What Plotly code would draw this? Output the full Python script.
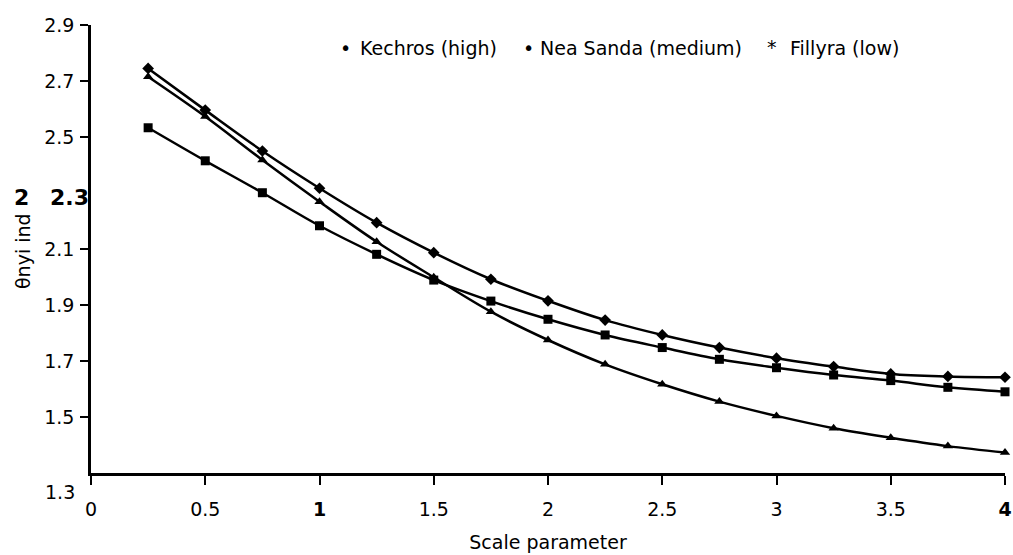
import plotly.graph_objects as go

# ---- data ----
scale_param = [0.25, 0.5, 0.75, 1.0, 1.25, 1.5, 1.75, 2.0, 2.25, 2.5, 2.75, 3.0, 3.25, 3.5, 3.75, 4.0]
kechros = [2.745, 2.596, 2.450, 2.317, 2.194, 2.087, 1.992, 1.915, 1.846, 1.793, 1.748, 1.710, 1.680, 1.654, 1.645, 1.642]
nea_sanda = [2.533, 2.415, 2.301, 2.183, 2.081, 1.989, 1.914, 1.849, 1.793, 1.748, 1.706, 1.676, 1.650, 1.630, 1.606, 1.590]
fillyra = [2.715, 2.573, 2.418, 2.269, 2.126, 1.999, 1.876, 1.775, 1.688, 1.617, 1.555, 1.504, 1.460, 1.426, 1.396, 1.373]

series_names = ["Kechros (high)", "Nea Sanda (medium)", "Fillyra (low)"]
legend_glyphs = ["\u2022", "\u2022", "*"]
marker_symbols = ["diamond", "square", "triangle-up"]

x_tickvals = [0, 0.5, 1, 1.5, 2, 2.5, 3, 3.5, 4]
x_ticktext = ["0", "0.5", "<b>1</b>", "1.5", "2", "2.5", "3", "3.5", "<b>4</b>"]
y_tickvals = [2.9, 2.7, 2.5, 2.1, 1.9, 1.7, 1.5]
y_ticktext = ["2.9", "2.7", "2.5", "2.1", "1.9", "1.7", "1.5"]

x_title = "Scale parameter"
y_title = "\u03b8nyi ind"

# ---- layout geometry (pixels) ----
W, H = 1013, 555
L, R, T, B = 91, 8, 25, 82
PW, PH = W - L - R, H - T - B


def px_x(px):
    return (px - L) / PW


def px_y(py):
    return (H - B - py) / PH


FONT = "DejaVu Sans"

fig = go.Figure()
for name, ys, sym in zip(series_names, [kechros, nea_sanda, fillyra], marker_symbols):
    fig.add_trace(go.Scatter(
        x=scale_param, y=ys, name=name, mode="lines+markers",
        line=dict(color="black", width=2.5, shape="spline", smoothing=1.0),
        marker=dict(symbol=sym, size=9, color="black"),
        showlegend=False, cliponaxis=False,
    ))

annotations = []
# legend drawn as text, like the reference
glyph_x = [345, 528, 772]
name_x = [358, 538, 788]
for g, gx, nm, nx in zip(legend_glyphs, glyph_x, series_names, name_x):
    annotations.append(dict(text=g, x=px_x(gx), y=px_y(48 if g != "*" else 47), xref="paper", yref="paper",
                            xanchor="center", yanchor="middle", showarrow=False,
                            font=dict(family=FONT, size=19, color="black")))
    annotations.append(dict(text=nm, x=px_x(nx), y=px_y(48), xref="paper", yref="paper",
                            xanchor="left", yanchor="middle", showarrow=False,
                            font=dict(family=FONT, size=19, color="black")))

# y-axis title and odd labels
annotations.append(dict(text=y_title, x=px_x(23), y=px_y(251), xref="paper", yref="paper",
                        xanchor="center", yanchor="middle", textangle=-90, showarrow=False,
                        font=dict(family=FONT, size=19, color="black")))
annotations.append(dict(text="<b>2</b>", x=px_x(21), y=2.3, xref="paper", yref="y",
                        yshift=-4, xanchor="center", yanchor="middle", showarrow=False,
                        font=dict(family=FONT, size=22, color="black")))
annotations.append(dict(text="<b>2.3</b>", x=px_x(91), y=2.3, xref="paper", yref="y",
                        yshift=-4, xanchor="right", yanchor="middle", showarrow=False,
                        font=dict(family=FONT, size=22, color="black")))
annotations.append(dict(text="1.3", x=px_x(77), y=1.3, xref="paper", yref="y",
                        yshift=-19, xanchor="right", yanchor="middle", showarrow=False,
                        font=dict(family=FONT, size=19, color="black")))

fig.update_layout(
    width=W, height=H,
    margin=dict(l=L, r=R, t=T, b=B, autoexpand=False),
    paper_bgcolor="white", plot_bgcolor="white",
    font=dict(family=FONT, size=19, color="black"),
    annotations=annotations,
    xaxis=dict(
        range=[0, 4], tickmode="array", tickvals=x_tickvals, ticktext=x_ticktext,
        showline=True, linecolor="black", linewidth=2.5,
        ticks="outside", ticklen=9, tickwidth=1.5, tickcolor="black",
        ticklabelstandoff=8, ticklabeloverflow="allow",
        showgrid=False, zeroline=False,
        tickfont=dict(family=FONT, size=19, color="black"),
        title=dict(text=x_title, standoff=18, font=dict(family=FONT, size=19, color="black")),
    ),
    yaxis=dict(
        range=[1.3, 2.9], tickmode="array", tickvals=y_tickvals, ticktext=y_ticktext,
        showline=True, linecolor="black", linewidth=2.5,
        ticks="outside", ticklen=8, tickwidth=1.5, tickcolor="black",
        ticklabelstandoff=2, ticklabeloverflow="allow",
        showgrid=False, zeroline=False,
        tickfont=dict(family=FONT, size=19, color="black"),
    ),
)

fig.write_html(
    "out.html",
    config={"displayModeBar": False},
    post_script="document.body.style.margin='0';document.body.style.overflow='hidden';",
)
